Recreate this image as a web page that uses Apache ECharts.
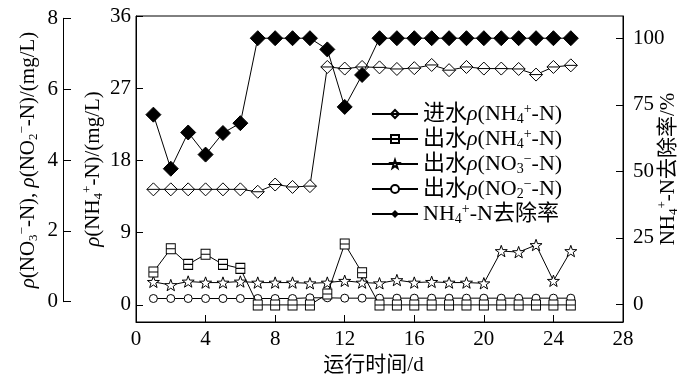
<!DOCTYPE html>
<html><head><meta charset="utf-8">
<script src="https://cdn.jsdelivr.net/npm/echarts@6/dist/echarts.min.js"></script>
<style>html,body{margin:0;padding:0;background:#fff}#c{width:700px;height:381px}</style>
</head><body><div id="c"></div>
<script>
const days = [1,2,3,4,5,6,7,8,9,10,11,12,13,14,15,16,17,18,19,20,21,22,23,24,25];
const influentNH4 = [14.4,14.4,14.4,14.4,14.4,14.4,14.1,15.0,14.7,14.8,29.65,29.45,29.65,29.6,29.4,29.5,29.9,29.25,29.65,29.45,29.45,29.4,28.7,29.65,29.85];
const effluentNH4 = [4.1,7.0,5.05,6.3,5.05,4.55,0,0,0,0,1.35,7.6,4.0,0,0,0,0,0,0,0,0,0,0,0,0];
const effluentNO3 = [0.56,0.47,0.57,0.54,0.54,0.57,0.54,0.54,0.54,0.52,0.54,0.59,0.54,0.52,0.61,0.54,0.56,0.54,0.54,0.52,1.43,1.40,1.60,0.59,1.43];
const effluentNO2 = [0.09,0.09,0.09,0.09,0.09,0.09,0.09,0.09,0.09,0.11,0.11,0.1,0.1,0.1,0.1,0.1,0.1,0.1,0.1,0.1,0.1,0.1,0.1,0.1,0.1];
const removalRate = [71.3,51.0,64.6,56.3,64.4,68.1,100,100,100,100,95.8,74.2,86.2,100,100,100,100,100,100,100,100,100,100,100,100];
const xTicks = [0,4,8,12,16,20,24,28];
const nh4Ticks = [0,9,18,27,36];
const rateTicks = [0,25,50,75,100];
const noxTicks = [0,2,4,6,8];

const FONT = "'Liberation Serif','Noto Sans CJK SC',serif";
const FS = 21;
function mkRich(fs, ss){
  return {
    i: {fontStyle:'italic', fontFamily:FONT, fontSize:fs, color:'#000'},
    sub: {fontSize:ss, verticalAlign:'bottom', lineHeight:ss, fontFamily:FONT, color:'#000'},
    sup: {fontSize:ss, verticalAlign:'top', lineHeight:ss, fontFamily:FONT, color:'#000'}
  };
}
const txt = {fontFamily:FONT, fontSize:FS, color:'#000', lineHeight:24, rich:mkRich(FS,13)};
const legTxt = {fontFamily:FONT, fontSize:22, color:'#000', lineHeight:24, rich:mkRich(22,14)};
const lbl = {fontFamily:FONT, fontSize:FS, color:'#000'};
const names = ['in','outNH4','outNO3','outNO2','rate'];
const legendText = {
  in: '进水{i|ρ}(NH{sub|4}{sup|+}-N)',
  outNH4: '出水{i|ρ}(NH{sub|4}{sup|+}-N)',
  outNO3: '出水{i|ρ}(NO{sub|3}{sup|−}-N)',
  outNO2: '出水{i|ρ}(NO{sub|2}{sup|−}-N)',
  rate: 'NH{sub|4}{sup|+}-N去除率'
};
const pair = a => days.map((d,i)=>[d,a[i]]);
const diamondLine = 'path://M0,-1L1,0L0,1L-1,0ZM-1,0L1,0';
const squareLine = 'path://M-1,-1L1,-1L1,1L-1,1ZM-1,0L1,0';
const star = 'path://M0,-1L0.235,-0.324L0.951,-0.309L0.38,0.124L0.588,0.809L0,0.4L-0.588,0.809L-0.38,0.124L-0.951,-0.309L-0.235,-0.324Z';
const axLine = {show:true, onZero:false, lineStyle:{color:'#000', width:1}};
const lineS = {color:'#000', width:1};
const hollow = {color:'#fff', borderColor:'#000', borderWidth:1};

const chart = echarts.init(document.getElementById('c'), null, {renderer:'canvas'});
chart.setOption({
  animation:false,
  backgroundColor:'#fff',
  grid:[
    {left:136, right:77, top:16, bottom:55, show:true, borderColor:'#000', borderWidth:1, backgroundColor:'transparent'},
    {left:136, right:77, top:18.3, bottom:79.3, show:false}
  ],
  legend:{
    data:names, orient:'vertical', left:371, top:102, padding:0,
    itemWidth:46, itemHeight:10, itemGap:1,
    formatter: n => legendText[n],
    textStyle: legTxt
  },
  xAxis:[
    {gridIndex:0, type:'value', min:0, max:28, interval:4,
     name:'运行时间/d', nameLocation:'middle', nameGap:33, nameMoveOverlap:false,
     nameTextStyle:{fontFamily:FONT, fontSize:21, color:'#000', padding:[0,12,0,0]},
     axisLine:axLine, axisTick:{inside:true, length:7, lineStyle:{color:'#000'}},
     axisLabel:Object.assign({margin:7}, lbl),
     splitLine:{show:false}},
    {gridIndex:1, type:'value', min:0, max:28, show:false, axisLine:{onZero:false}}
  ],
  yAxis:[
    {gridIndex:0, type:'value', position:'left', min:-2.13, max:36,
     name:'{i|ρ}(NH{sub|4}{sup|+}-N)/(mg/L)', nameLocation:'middle', nameGap:31, nameRotate:90, nameMoveOverlap:false, nameTextStyle:txt,
     axisLine:axLine, axisTick:{inside:true, length:7, lineStyle:{color:'#000'}, customValues:nh4Ticks},
     axisLabel:Object.assign({margin:5, customValues:nh4Ticks}, lbl),
     splitLine:{show:false}},
    {gridIndex:0, type:'value', position:'right', min:-6.56, max:108.34,
     name:'NH{sub|4}{sup|+}-N去除率/%', nameLocation:'middle', nameGap:33, nameRotate:90, nameMoveOverlap:false, nameTextStyle:txt,
     axisLine:axLine, axisTick:{inside:true, length:7, lineStyle:{color:'#000'}, customValues:rateTicks},
     axisLabel:Object.assign({margin:10, customValues:rateTicks}, lbl),
     splitLine:{show:false}},
    {gridIndex:1, type:'value', position:'left', offset:73, min:0, max:8, interval:2,
     name:'{i|ρ}(NO{sub|3}{sup|−}-N), {i|ρ}(NO{sub|2}{sup|−}-N)/(mg/L)', nameLocation:'middle', nameGap:23, nameRotate:90, nameMoveOverlap:false, nameTextStyle:txt,
     axisLine:axLine, axisTick:{inside:true, length:8, lineStyle:{color:'#000'}},
     axisLabel:Object.assign({margin:5}, lbl),
     splitLine:{show:false}}
  ],
  series:[
    {name:'in', type:'line', xAxisIndex:0, yAxisIndex:0, data:pair(influentNH4), symbol:diamondLine, symbolSize:13,
     lineStyle:lineS, itemStyle:hollow, z:3},
    {name:'outNH4', type:'line', xAxisIndex:0, yAxisIndex:0, data:pair(effluentNH4), symbol:squareLine, symbolSize:[9,10],
     lineStyle:lineS, itemStyle:hollow, z:4},
    {name:'outNO3', type:'line', xAxisIndex:1, yAxisIndex:2, data:pair(effluentNO3), symbol:star, symbolSize:12, symbolKeepAspect:true,
     lineStyle:lineS, itemStyle:hollow, z:3},
    {name:'outNO2', type:'line', xAxisIndex:1, yAxisIndex:2, data:pair(effluentNO2), symbol:'circle', symbolSize:8,
     lineStyle:lineS, itemStyle:hollow, z:2},
    {name:'rate', type:'line', xAxisIndex:0, yAxisIndex:1, data:pair(removalRate), symbol:'diamond', symbolSize:15,
     lineStyle:lineS, itemStyle:{color:'#000', borderColor:'#000'}, z:5}
  ]
});
</script></body></html>
